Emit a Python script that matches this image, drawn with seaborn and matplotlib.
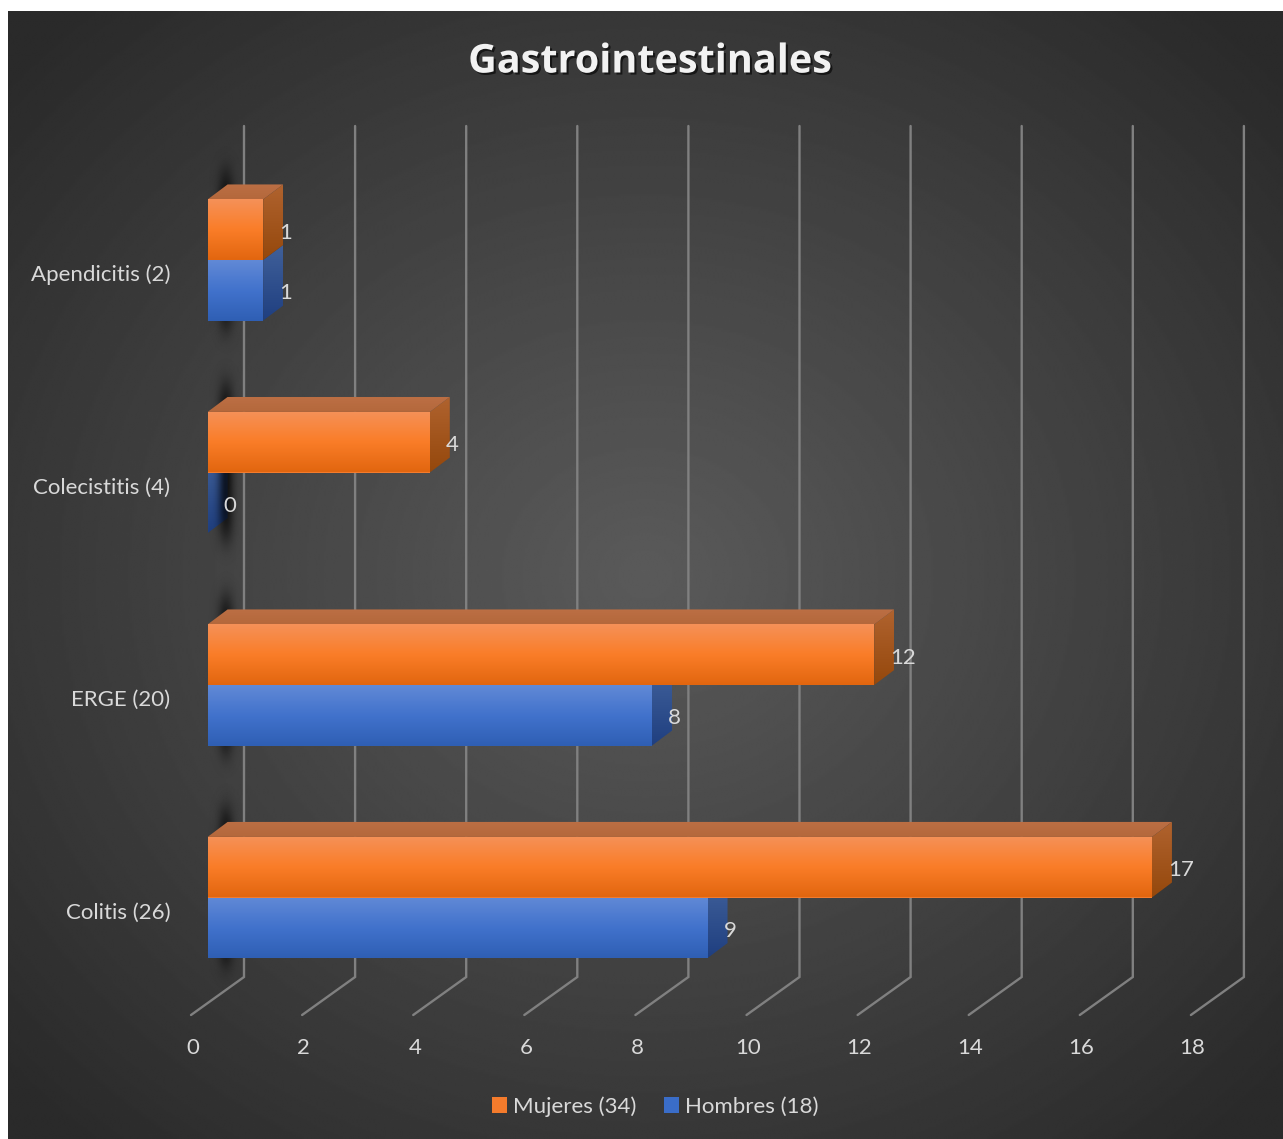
import numpy as np
import pandas as pd
import matplotlib
matplotlib.use("Agg")
import matplotlib.pyplot as plt
from matplotlib.patches import Polygon
from matplotlib.transforms import ScaledTranslation
from matplotlib.colors import to_rgb
import matplotlib.patheffects as pe
import seaborn as sns

categories = ["Apendicitis (2)", "Colecistitis (4)", "ERGE (20)", "Colitis (26)"]
mujeres = [1, 4, 12, 17]
hombres = [1, 0, 8, 9]
series_names = ["Mujeres (34)", "Hombres (18)"]
x_ticks = [0, 2, 4, 6, 8, 10, 12, 14, 16, 18]
title = "Gastrointestinales"

W, H = 1283, 1139
PX_X = 55.55       # pixels per value unit
PX_Y = 212.5       # pixels per category
AX_L, AX_R, AX_T, AX_B = 191, 1244, 126, 1015
X0, Y0 = 207.6, 260  # pixel of value 0 / first category

sns.set_style("dark")
plt.rcParams["font.family"] = ["Lato", "DejaVu Sans"]
TXT = "#D9D9D9"
FS = 16

fig = plt.figure(figsize=(W / 100, H / 100), dpi=100, facecolor="white")

# background
bg = fig.add_axes([8 / W, 0, (W - 8) / W, (H - 11) / H])
bg.set_axis_off()
yy, xx = np.mgrid[0:1:600j, 0:1:600j]
r = np.sqrt(((xx - 0.5) / 0.5) ** 2 + ((yy - 0.5) / 0.5) ** 2) / np.sqrt(2)
t = np.clip(r / 0.95, 0, 1) ** 1.05
bg.imshow(0x5A / 255 + (0x2A - 0x5A) / 255 * t, cmap="gray", vmin=0, vmax=1,
          aspect="auto", interpolation="bilinear")

ax = fig.add_axes([AX_L / W, 1 - AX_B / H, (AX_R - AX_L) / W, (AX_B - AX_T) / H])
ax.patch.set_alpha(0)

df = pd.DataFrame({
    "cat": categories * 2,
    "val": mujeres + hombres,
    "sex": [series_names[0]] * 4 + [series_names[1]] * 4,
})
sns.barplot(data=df, y="cat", x="val", hue="sex", hue_order=series_names,
            order=categories, orient="h", width=0.57, gap=0, dodge=True,
            palette=["#F47B2C", "#3A6DC8"], ax=ax, saturation=1, linewidth=0,
            legend=True)

xlim = ((AX_L - X0) / PX_X, (AX_R - X0) / PX_X)
ylim = ((AX_B - Y0) / PX_Y, (AX_T - Y0) / PX_Y)
DX, DY = 20 / PX_X, 15 / PX_Y


def px_y(p):
    return (p - Y0) / PX_Y


# gridlines: back wall + floor
for v in x_ticks:
    ax.plot([v + 36.4 / PX_X, v + 36.4 / PX_X, v - 16.6 / PX_X],
            [px_y(AX_T), px_y(977), px_y(AX_B)],
            color="#808080", lw=1.7, zorder=1, solid_joinstyle="miter", clip_on=False)


def grad_poly(verts, stops, zorder, horizontal=False):
    verts = np.array(verts)
    poly = Polygon(verts, closed=True, transform=ax.transData,
                   facecolor="none", edgecolor="none")
    ax.add_patch(poly)
    n = 64
    pos = np.linspace(0, 1, len(stops))
    cols = np.array([to_rgb(c) for c in stops])
    g = np.stack([np.interp(np.linspace(0, 1, n), pos, cols[:, k]) for k in range(3)], axis=-1)
    g = g[None, :, :] if horizontal else g[:, None, :]
    im = ax.imshow(g, extent=(verts[:, 0].min(), verts[:, 0].max(),
                              verts[:, 1].max(), verts[:, 1].min()),
                   aspect="auto", interpolation="bilinear", zorder=zorder, origin="upper")
    im.set_clip_path(poly)


FRONT = {0: ["#F59158", "#FA7D28", "#E2660F"], 1: ["#6189D6", "#4172CC", "#2F5FB4"]}
SIDE = {0: ["#B0632F", "#95480C"], 1: ["#40609A", "#1F3F80"]}
TOP = {0: ["#BC6F44", "#B4683C"]}
Z_FRONT = {0: 3.6, 1: 3.0}
Z_SIDE = {0: 3.4, 1: 2.6}

for s, container in enumerate(ax.containers):
    for bar in container:
        x0, w = bar.get_x(), bar.get_width()
        y_t, y_b = sorted([bar.get_y(), bar.get_y() + bar.get_height()])
        x1 = x0 + w
        bar.set_zorder(Z_FRONT[s] - 0.1)
        zero = w == 0
        grad_poly([(x1, y_t), (x1 + DX, y_t - DY), (x1 + DX, y_b - DY), (x1, y_b)],
                  SIDE[s], 1.2 if zero else Z_SIDE[s])
        if not zero:
            grad_poly([(x0, y_t), (x1, y_t), (x1, y_b), (x0, y_b)], FRONT[s], Z_FRONT[s])
        if s == 0:
            grad_poly([(x0, y_t), (x0 + DX, y_t - DY), (x1 + DX, y_t - DY), (x1, y_t)],
                      TOP[0], Z_SIDE[s])

# soft shadow behind each category
for i in range(len(categories)):
    py, px = np.mgrid[-1:1:160j, -1:1:60j]
    alpha = 0.75 * np.exp(-(px / 0.36) ** 2) * np.exp(-(py / 0.72) ** 6)
    rgba = np.zeros((160, 60, 4))
    rgba[..., 3] = alpha
    ax.imshow(rgba, extent=(-4 / PX_X, 40 / PX_X, i + 100 / PX_Y, i - 120 / PX_Y),
              aspect="auto", interpolation="bilinear", zorder=1.5)

# data labels
for c in ax.containers:
    labels = ax.bar_label(c, padding=11.5, color=TXT, fontsize=FS)
    for l in labels:
        l.set_zorder(6)
        l.xyann = (l.xyann[0], l.xyann[1] - 2.2)

ax.set_xlim(*xlim)
ax.set_ylim(*ylim)
ax.set_xticks(x_ticks)
ax.set_xlabel("")
ax.set_ylabel("")
ax.grid(False)
for sp in ax.spines.values():
    sp.set_visible(False)
ax.tick_params(axis="both", length=0, labelcolor=TXT, labelsize=FS)
ax.tick_params(axis="y", pad=15)
ax.tick_params(axis="x", pad=16.5)
for l in ax.get_yticklabels():
    l.set_transform(l.get_transform() + ScaledTranslation(0, -13 / 100, fig.dpi_scale_trans))
for l in ax.get_xticklabels():
    l.set_transform(l.get_transform() + ScaledTranslation(-15 / 100, 0, fig.dpi_scale_trans))

# legend
handles, labels = ax.get_legend_handles_labels()
ax.get_legend().remove()
leg = fig.legend(handles, labels, loc="center", bbox_to_anchor=(655 / W, 1 - 1106.5 / H),
                 ncol=2, frameon=False, fontsize=FS, labelcolor=TXT, handlelength=0.68,
                 handleheight=0.68, handletextpad=0.26, columnspacing=1.25, borderpad=0)

# title
fig.text(650 / W, 1 - 62 / H, title, ha="center", va="center", color="#F2F2F2",
         fontsize=28.5, fontweight="bold", family=["Open Sans", "DejaVu Sans"],
         path_effects=[pe.withSimplePatchShadow(offset=(1.5, -1.5), alpha=0.6, shadow_rgbFace="black")])

fig.savefig("out.png", dpi=100, facecolor="white")
